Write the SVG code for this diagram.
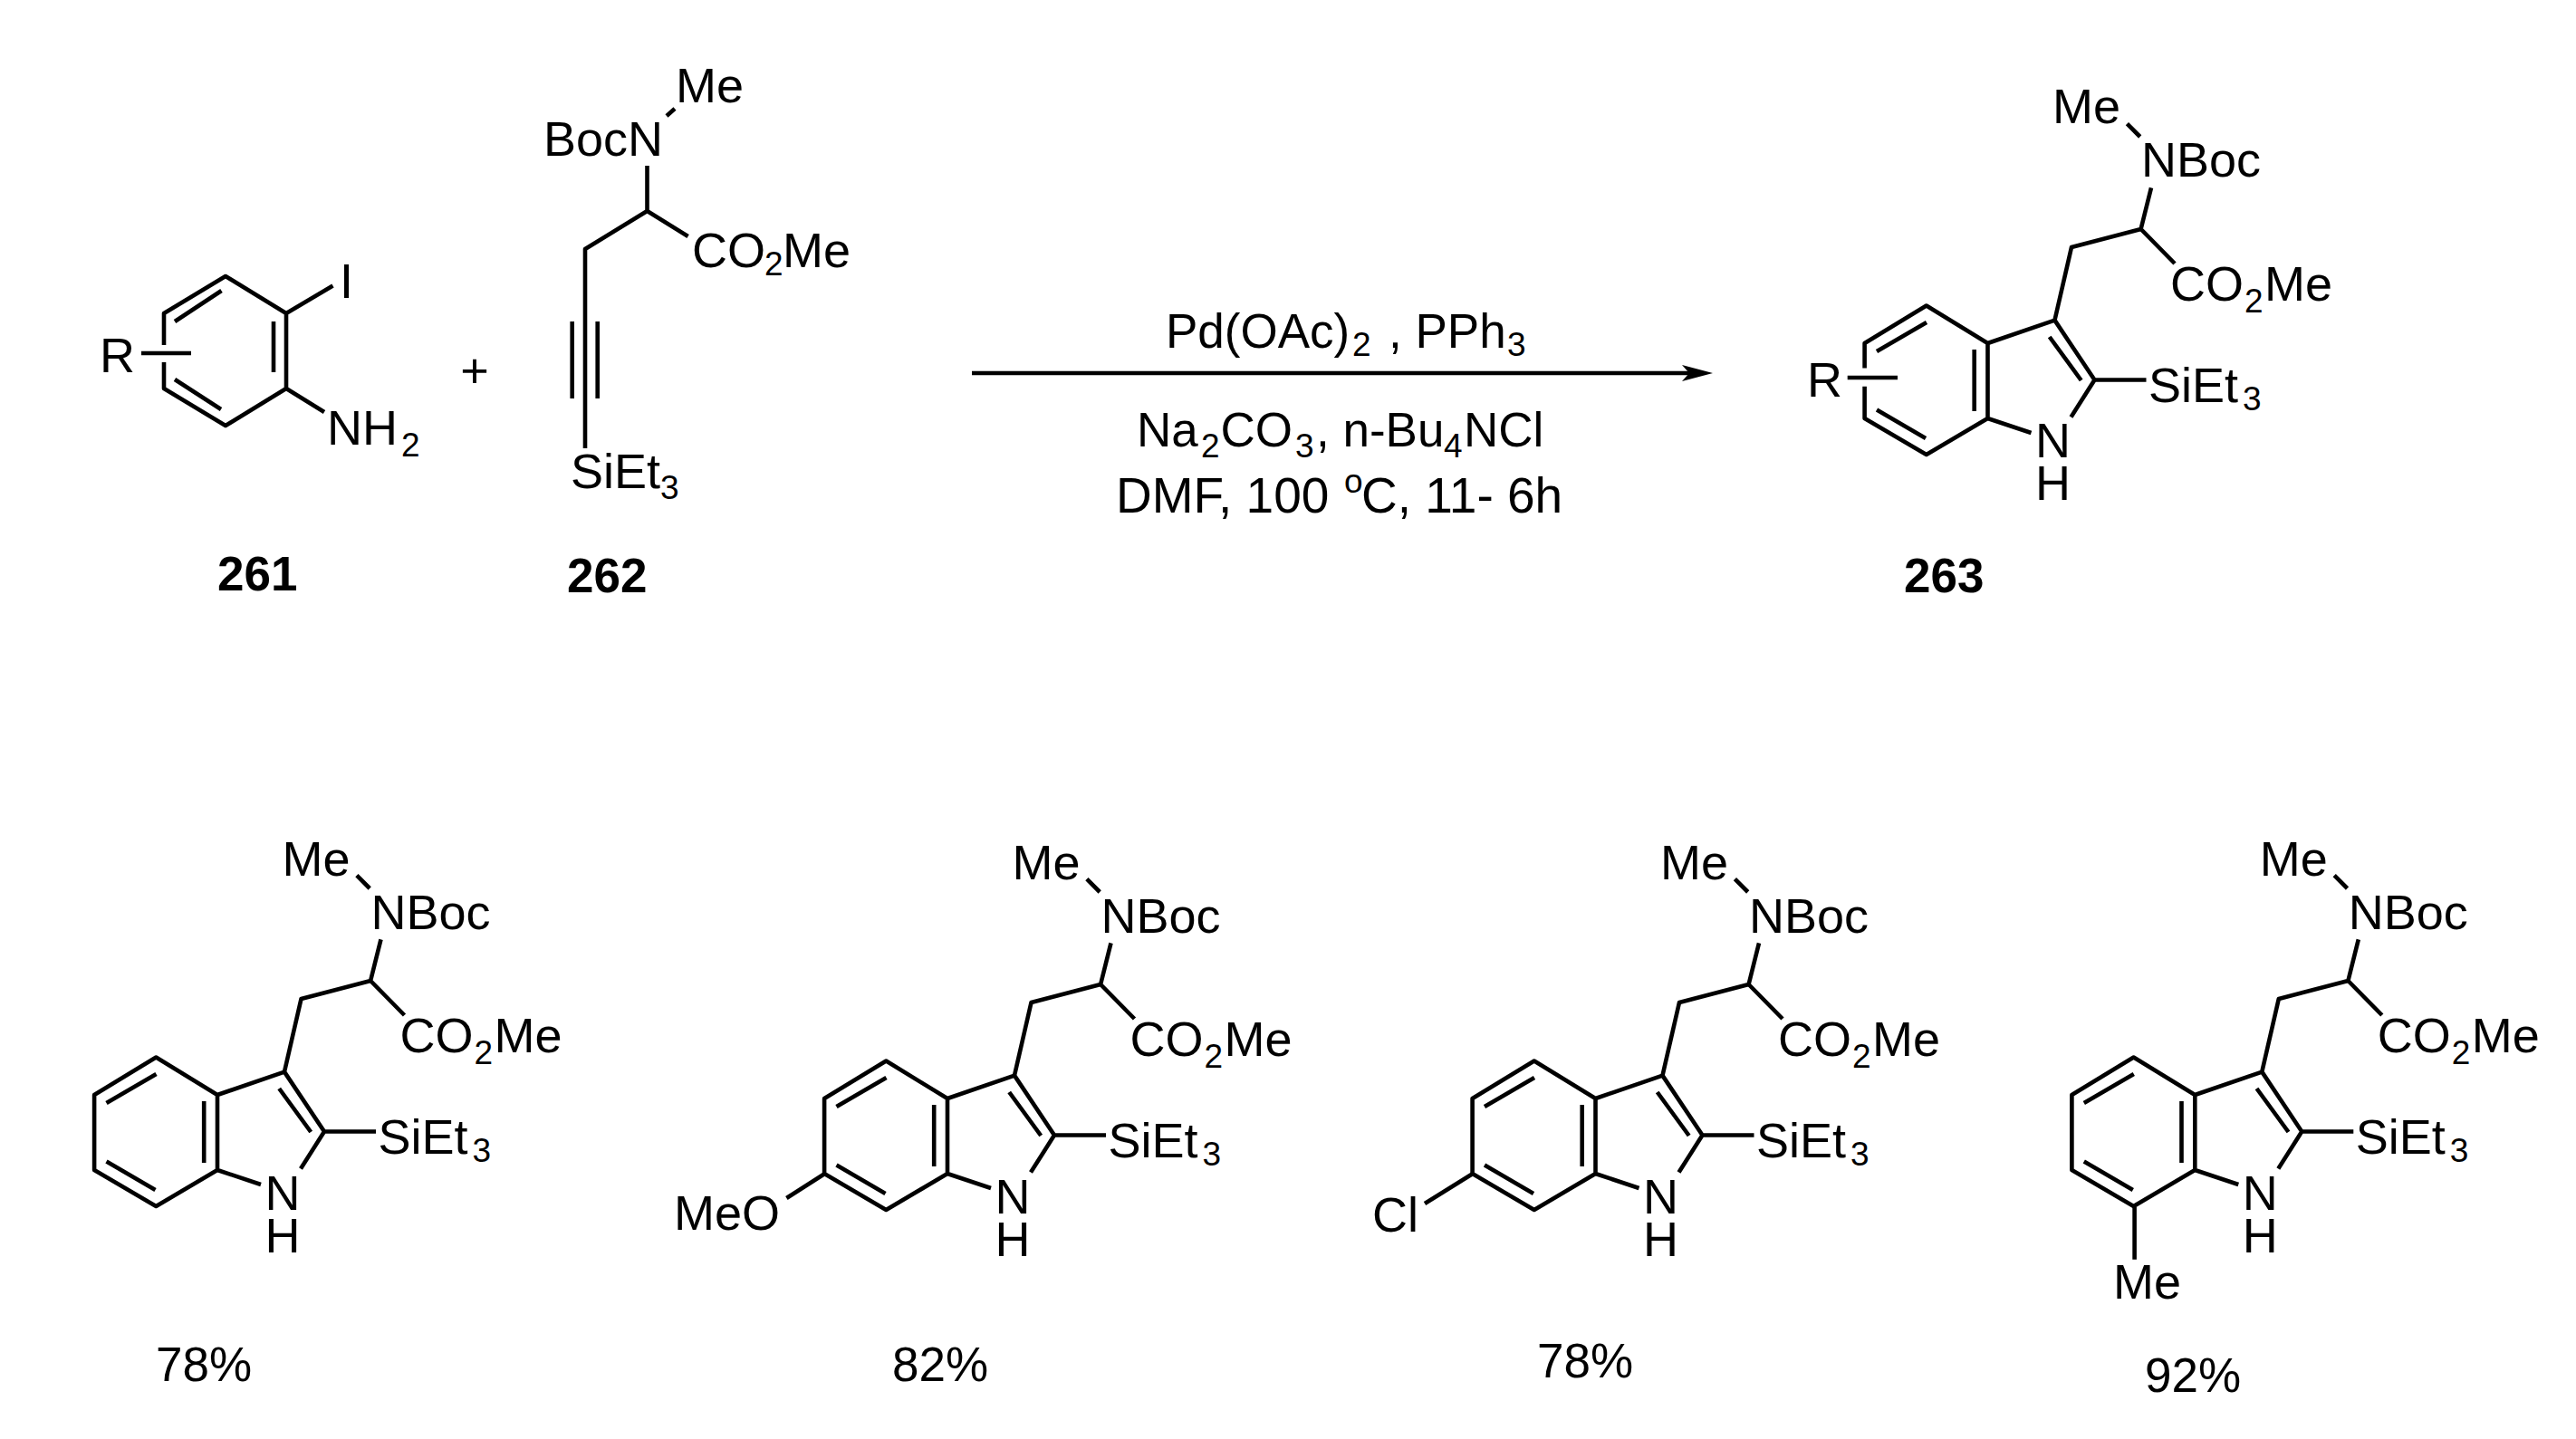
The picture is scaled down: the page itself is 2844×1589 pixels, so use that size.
<svg xmlns="http://www.w3.org/2000/svg" width="2844" height="1589" viewBox="0 0 2844 1589">
<style>
text{font-family:"Liberation Sans",Arial,sans-serif;font-size:54px;fill:#000}
.sub{font-size:37px}
.b{font-weight:bold;font-size:53px}
.rg{font-size:53px}
.wide{font-size:55px}
.y{font-size:53px}
path.bond,line{stroke:#000;stroke-width:4.6;fill:none;stroke-linejoin:round;stroke-linecap:butt}
</style>
<defs>
<marker id="head" markerUnits="userSpaceOnUse" markerWidth="34" markerHeight="18" refX="13" refY="9" orient="auto"><path d="M0,0L34,9L0,18L8,9Z" fill="#000"/></marker>
</defs>
<rect width="2844" height="1589" fill="#fff"/>

<g id="compound-261">
<path class="bond" d="M181,381V346L249,305L316,346V429L249,470L181,429V400M193,355L244.500,321M302,355V411M193,419L244,452M156,390H211M316,346L367.500,315.600M316,429L358,455"/>
<text x="110" y="411">R</text>
<text x="375" y="329">I</text>
<text x="361" y="491">NH<tspan class="sub" x="443" y="504">2</tspan></text>
<text class="b" x="240" y="652">261</text>
</g>

<g id="plus"><text x="524" y="428" text-anchor="middle">+</text></g>

<g id="compound-262">
<path class="bond" d="M745,120L736,128M714.500,183V233L646,275V495M714.500,233L759.600,261M631.700,355V440M659.700,355V440"/>
<text x="746" y="113">Me</text>
<text x="600" y="172">BocN</text>
<text x="764" y="295">CO<tspan class="sub" x="844" y="304">2</tspan><tspan x="864" y="295">Me</tspan></text>
<text x="630" y="539">SiEt<tspan class="sub" x="729" y="551">3</tspan></text>
<text class="b" x="626" y="654">262</text>
</g>

<g id="conditions">
<text class="rg" x="1287" y="384">Pd(OAc)<tspan class="sub" x="1493" y="393">2</tspan><tspan x="1533" y="384">, PPh</tspan><tspan class="sub" x="1664" y="393">3</tspan></text>
<text class="rg" x="1255" y="493">Na<tspan class="sub" x="1326" y="505">2</tspan><tspan x="1347.500" y="493">CO</tspan><tspan class="sub" x="1430" y="505">3</tspan><tspan x="1453" y="493">, n-Bu</tspan><tspan class="sub" x="1594" y="505">4</tspan><tspan x="1616" y="493">NCl</tspan></text>
<text class="wide" x="1232" y="566">DMF, 100 <tspan class="sub" x="1484" y="544">o</tspan><tspan x="1503" y="566">C, 11- 6h</tspan></text>
</g>

<g id="connectors">
<line x1="1073" y1="412" x2="1870" y2="412" marker-end="url(#head)"/>
</g>

<g id="compound-263">
<path class="bond" d="M2058.600,406.500V379L2126.800,337.500L2194.500,379V462L2126.800,502L2058.600,462V426.700M2072,388L2127,356M2072,452.600L2126,484M2179.700,386V454M2194.500,379L2268.500,353.600L2312.500,419.500L2286.500,460.600M2262.700,372L2297.700,420M2194.500,462L2242.500,478M2268.500,353.600L2287,273L2363.600,253L2375,207.400M2363.600,253L2401,291M2348.400,136.700L2362.700,151M2312.500,419.500H2369.500M2039.700,417H2095"/>
<text x="1995" y="438">R</text>
<text x="2266" y="135.500">Me</text>
<text x="2364" y="195">NBoc</text>
<text x="2396" y="332">CO<tspan class="sub" x="2478" y="344.700">2</tspan><tspan x="2500" y="332">Me</tspan></text>
<text x="2372" y="443.700">SiEt<tspan class="sub" x="2476" y="452.600">3</tspan></text>
<text x="2247" y="505">N</text>
<text x="2247" y="552">H</text>
<text class="b" x="2102" y="654">263</text>
</g>

<g id="product-a" transform="translate(-1954.500,830)">
<path class="bond" d="M2058.600,379L2126.800,337.500L2194.500,379V462L2126.800,502L2058.600,462ZM2072,388L2127,356M2072,452.600L2126,484M2179.700,386V454M2194.500,379L2268.500,353.600L2312.500,419.500L2286.500,460.600M2262.700,372L2297.700,420M2194.500,462L2242.500,478M2268.500,353.600L2287,273L2363.600,253L2375,207.400M2363.600,253L2401,291M2348.400,136.700L2362.700,151M2312.500,419.500H2369.500"/>
<text x="2266" y="136.500">Me</text>
<text x="2364" y="196">NBoc</text>
<text x="2396" y="332">CO<tspan class="sub" x="2478" y="345">2</tspan><tspan x="2500" y="332">Me</tspan></text>
<text x="2372" y="443.500">SiEt<tspan class="sub" x="2476" y="453">3</tspan></text>
<text x="2247" y="506">N</text>
<text x="2247" y="553">H</text>
</g>
<g id="yield-a"><text class="y" x="172" y="1525">78%</text></g>

<g id="product-b" transform="translate(-1148.500,834)">
<path class="bond" d="M2058.600,379L2126.800,337.500L2194.500,379V462L2126.800,502L2058.600,462ZM2072,388L2127,356M2072,452.600L2126,484M2179.700,386V454M2194.500,379L2268.500,353.600L2312.500,419.500L2286.500,460.600M2262.700,372L2297.700,420M2194.500,462L2242.500,478M2268.500,353.600L2287,273L2363.600,253L2375,207.400M2363.600,253L2401,291M2348.400,136.700L2362.700,151M2312.500,419.500H2369.500"/>
<text x="2266" y="136.500">Me</text>
<text x="2364" y="196">NBoc</text>
<text x="2396" y="332">CO<tspan class="sub" x="2478" y="345">2</tspan><tspan x="2500" y="332">Me</tspan></text>
<text x="2372" y="443.500">SiEt<tspan class="sub" x="2476" y="453">3</tspan></text>
<text x="2247" y="506">N</text>
<text x="2247" y="553">H</text>
</g>
<g id="substituent-b"><line x1="911" y1="1295.800" x2="868.400" y2="1323"/><text x="744" y="1358">MeO</text></g>
<g id="yield-b"><text class="y" x="985" y="1525">82%</text></g>

<g id="product-c" transform="translate(-433,834)">
<path class="bond" d="M2058.600,379L2126.800,337.500L2194.500,379V462L2126.800,502L2058.600,462ZM2072,388L2127,356M2072,452.600L2126,484M2179.700,386V454M2194.500,379L2268.500,353.600L2312.500,419.500L2286.500,460.600M2262.700,372L2297.700,420M2194.500,462L2242.500,478M2268.500,353.600L2287,273L2363.600,253L2375,207.400M2363.600,253L2401,291M2348.400,136.700L2362.700,151M2312.500,419.500H2369.500"/>
<text x="2266" y="136.500">Me</text>
<text x="2364" y="196">NBoc</text>
<text x="2396" y="332">CO<tspan class="sub" x="2478" y="345">2</tspan><tspan x="2500" y="332">Me</tspan></text>
<text x="2372" y="443.500">SiEt<tspan class="sub" x="2476" y="453">3</tspan></text>
<text x="2247" y="506">N</text>
<text x="2247" y="553">H</text>
</g>
<g id="substituent-c"><line x1="1626.400" y1="1295.800" x2="1573" y2="1329"/><text x="1515" y="1360">Cl</text></g>
<g id="yield-c"><text class="y" x="1697" y="1521">78%</text></g>

<g id="product-d" transform="translate(228.800,830)">
<path class="bond" d="M2058.600,379L2126.800,337.500L2194.500,379V462L2126.800,502L2058.600,462ZM2072,388L2127,356M2072,452.600L2126,484M2179.700,386V454M2194.500,379L2268.500,353.600L2312.500,419.500L2286.500,460.600M2262.700,372L2297.700,420M2194.500,462L2242.500,478M2268.500,353.600L2287,273L2363.600,253L2375,207.400M2363.600,253L2401,291M2348.400,136.700L2362.700,151M2312.500,419.500H2369.500"/>
<text x="2266" y="136.500">Me</text>
<text x="2364" y="196">NBoc</text>
<text x="2396" y="332">CO<tspan class="sub" x="2478" y="345">2</tspan><tspan x="2500" y="332">Me</tspan></text>
<text x="2372" y="443.500">SiEt<tspan class="sub" x="2476" y="453">3</tspan></text>
<text x="2247" y="506">N</text>
<text x="2247" y="553">H</text>
</g>
<g id="substituent-d"><line x1="2356.600" y1="1333" x2="2356.600" y2="1390.800"/><text x="2333" y="1434">Me</text></g>
<g id="yield-d"><text class="y" x="2368" y="1537">92%</text></g>
</svg>
